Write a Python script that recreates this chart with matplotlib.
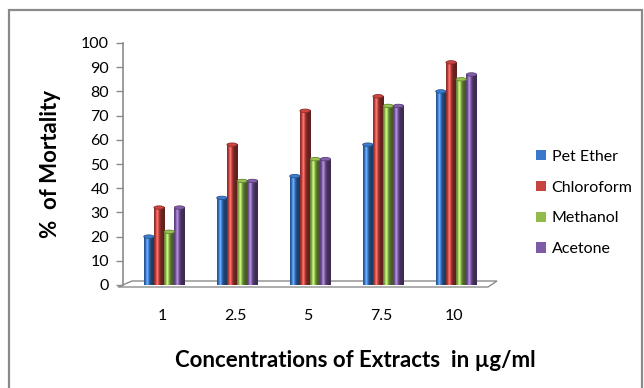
import numpy as np
import matplotlib.pyplot as plt
from matplotlib.patches import Ellipse, Polygon, Rectangle
from matplotlib.colors import to_rgb

# data
concentrations = ['1', '2.5', '5', '7.5', '10']
pet_ether = [20, 36, 45, 58, 80]
chloroform = [32, 58, 72, 78, 92]
methanol = [22, 43, 52, 74, 85]
acetone = [32, 43, 52, 74, 87]
series_names = ['Pet Ether', 'Chloroform', 'Methanol', 'Acetone']
colors = ['#3A78C9', '#C6433E', '#92BB4E', '#7E5BA6']

plt.rcParams['font.family'] = ['Lato', 'DejaVu Sans']

fig = plt.figure(figsize=(6.44, 3.88), dpi=100)
ax = fig.add_axes([123 / 644, 1 - 285 / 388, (497 - 123) / 644, (285 - 43) / 388])

# outer border (top + left visible)
fig.patches.append(Rectangle((8.5 / 644, -0.05), 633 / 644, 1.05 - 10.5 / 388,
                             transform=fig.transFigure, fill=False,
                             edgecolor='#8a8a8a', linewidth=1.6, zorder=0))


def cylinder(ax, bar, color):
    x0, w, h = bar.get_x(), bar.get_width(), bar.get_height()
    base = np.array(to_rgb(color))
    t = np.linspace(0, 1, 40)
    # light stripe at ~30% across, darker edges
    shade = 0.62 + 0.55 * np.exp(-((t - 0.32) / 0.22) ** 2) - 0.15 * t
    img = np.clip(base[None, :] * shade[:, None], 0, 1)
    hi = np.exp(-((t - 0.3) / 0.09) ** 2)[:, None]
    img = np.clip(img + 0.18 * hi, 0, 1)
    ax.imshow(img[None, :, :], extent=(x0, x0 + w, 0, h), aspect='auto',
              zorder=3, interpolation='bilinear')
    ax.add_patch(Ellipse((x0 + w / 2, h), w, 1.4, facecolor=np.clip(base * 1.05, 0, 1),
                         edgecolor=np.clip(base * 0.7, 0, 1), linewidth=0.6, zorder=4))


x = np.arange(len(concentrations))
w = 0.14
all_series = [pet_ether, chloroform, methanol, acetone]
handles = []
for i, (vals, name, c) in enumerate(zip(all_series, series_names, colors)):
    bars = ax.bar(x + (i - 1.5) * w + 0.03, vals, w, color=c, label=name, zorder=2)
    handles.append(bars)
    for b in bars:
        cylinder(ax, b, c)

ax.set_xlim(-0.534, 4.59)
ax.set_ylim(0, 100)
ax.set_yticks(range(0, 101, 10))
ax.set_xticks(x)
ax.set_xticklabels(concentrations)

for s in ['top', 'right', 'bottom']:
    ax.spines[s].set_visible(False)
ax.spines['left'].set_color('#8c8c8c')
ax.spines['left'].set_linewidth(1.2)
ax.tick_params(axis='y', color='#8c8c8c', length=5, width=1, labelsize=11.5, pad=5)
ax.tick_params(axis='x', length=0, labelsize=11.5, pad=17)

# 3d floor outline
floor = Polygon([(-5 / 374, -2 / 242), (365 / 374, -2 / 242), (374 / 374, 4 / 242), (9 / 374, 4 / 242)],
                closed=True, transform=ax.transAxes, fill=False, edgecolor='#8c8c8c',
                linewidth=1.0, clip_on=False, zorder=1)
ax.add_patch(floor)

ax.set_ylabel('%  of Mortality', fontsize=16, fontweight='bold')
ax.yaxis.set_label_coords(-0.165, 0.5)
ax.set_xlabel('Concentrations of Extracts  in µg/ml', fontsize=16, fontweight='bold')
ax.xaxis.set_label_coords(0.62, -0.27)

leg = fig.legend(handles=handles, labels=series_names, loc='center left',
                 bbox_to_anchor=(522 / 644, 1 - 203 / 388), frameon=False,
                 fontsize=11.5, handlelength=0.6, handleheight=0.6, handletextpad=0.35,
                 labelspacing=1.05)

fig.savefig('out.png', dpi=100)
